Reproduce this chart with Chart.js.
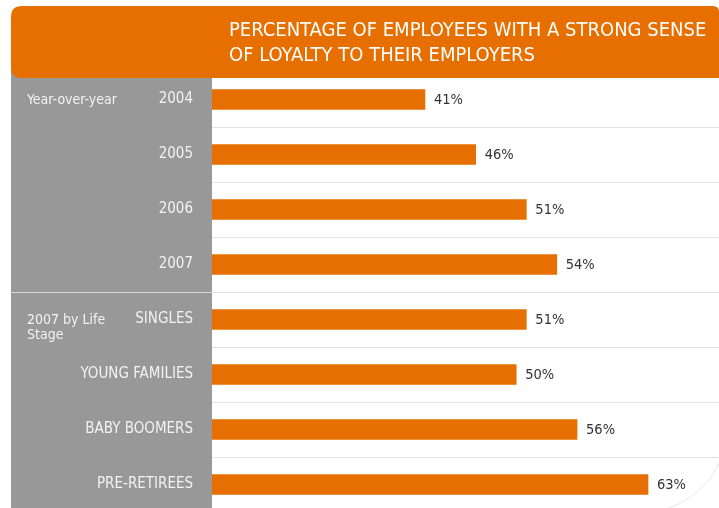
<!DOCTYPE html>
<html>
<head>
<meta charset="utf-8">
<script src="https://cdn.jsdelivr.net/npm/chart.js@4/dist/chart.umd.min.js"></script>
<style>
  html, body { margin: 0; padding: 0; background: #ffffff; overflow: hidden; }
  #wrap { position: relative; width: 719px; height: 540px; }
</style>
</head>
<body>
<div id="wrap"><canvas id="c" width="719" height="540"></canvas></div>
<script>
// Loyalty survey data
const categories = ['2004', '2005', '2006', '2007', 'SINGLES', 'YOUNG FAMILIES', 'BABY BOOMERS', 'PRE-RETIREES'];
const loyaltyPct = [41, 46, 51, 54, 51, 50, 56, 63];
const titleLines = ['PERCENTAGE OF EMPLOYEES WITH A STRONG SENSE', 'OF LOYALTY TO THEIR EMPLOYERS'];
const groupLabels = [
  { index: 0, lines: ['Year-over-year'] },
  { index: 4, lines: ['2007 by Life', 'Stage'] }
];

const ORANGE = '#e66f00';
const PANEL = '#989898';
const FONT = '"Liberation Sans Narrow", "DejaVu Sans Condensed", "Arial Narrow", sans-serif';

function headerPath(ctx, x, y, w, h, r) {
  ctx.beginPath();
  ctx.moveTo(x + r, y);
  ctx.lineTo(x + w - 6, y);
  ctx.quadraticCurveTo(x + w, y, x + w, y + 6);
  ctx.lineTo(x + w, y + h);
  ctx.lineTo(x + r, y + h);
  ctx.quadraticCurveTo(x, y + h, x, y + h - r);
  ctx.lineTo(x, y + r);
  ctx.quadraticCurveTo(x, y, x + r, y);
  ctx.closePath();
}

// grey side panel, header band, group labels and value labels
const decorPlugin = {
  id: 'decor',
  beforeDraw(chart) {
    const { ctx, chartArea } = chart;
    const yScale = chart.scales.y;
    ctx.save();
    ctx.fillStyle = PANEL;
    ctx.fillRect(11, 70, chartArea.left - 11, chart.height - 70);
    // divider between the two groups
    const yDiv = (yScale.getPixelForValue(3) + yScale.getPixelForValue(4)) / 2;
    ctx.strokeStyle = '#d9d9d9';
    ctx.lineWidth = 1;
    ctx.beginPath();
    ctx.moveTo(11, Math.round(yDiv) + 0.5);
    ctx.lineTo(chartArea.left, Math.round(yDiv) + 0.5);
    ctx.stroke();
    // faint decorative arc in the lower right corner
    ctx.strokeStyle = '#e8e8e8';
    ctx.beginPath();
    ctx.arc(640, 425, 88, 0.25, 1.4);
    ctx.stroke();
    ctx.restore();
  },
  afterDatasetsDraw(chart) {
    const { ctx } = chart;
    const meta = chart.getDatasetMeta(0);
    ctx.save();
    ctx.fillStyle = '#333333';
    ctx.font = '14.5px ' + FONT;
    ctx.textBaseline = 'middle';
    ctx.textAlign = 'left';
    meta.data.forEach((bar, i) => {
      ctx.fillText(loyaltyPct[i] + '%', bar.x + 9, bar.y + 1);
    });
    ctx.restore();
  },
  afterDraw(chart) {
    const { ctx } = chart;
    const yScale = chart.scales.y;
    ctx.save();
    // header band with title
    ctx.fillStyle = ORANGE;
    headerPath(ctx, 11, 6, 708, 72, 11);
    ctx.fill();
    ctx.fillStyle = '#ffffff';
    ctx.font = '20px ' + FONT;
    ctx.textBaseline = 'alphabetic';
    ctx.textAlign = 'left';
    ctx.fillText(titleLines[0], 229, 35.5);
    ctx.fillText(titleLines[1], 229, 61);
    // group labels in the side panel
    ctx.fillStyle = '#f2f2f2';
    ctx.font = '14px ' + FONT;
    ctx.textBaseline = 'middle';
    groupLabels.forEach(g => {
      const y0 = yScale.getPixelForValue(g.index) + 1;
      g.lines.forEach((t, i) => ctx.fillText(t, 27, y0 + i * 15));
    });
    ctx.restore();
  }
};

new Chart(document.getElementById('c'), {
  type: 'bar',
  data: {
    labels: categories,
    datasets: [{
      data: loyaltyPct,
      backgroundColor: ORANGE,
      borderWidth: 0,
      barThickness: 20
    }]
  },
  options: {
    indexAxis: 'y',
    responsive: false,
    animation: false,
    devicePixelRatio: 1,
    layout: { padding: { top: 72, bottom: 2, left: 0, right: 0 } },
    plugins: { legend: { display: false }, tooltip: { enabled: false }, title: { display: false } },
    scales: {
      x: { display: false, min: 20, max: 70 },
      y: {
        afterFit(scale) { scale.width = 212; },
        border: { display: false },
        grid: { drawTicks: false, color: '#e3e3e3', lineWidth: 1 },
        ticks: {
          padding: 19,
          color: '#f2f2f2',
          font: { family: FONT, size: 15 }
        }
      }
    }
  },
  plugins: [decorPlugin]
});
</script>
</body>
</html>
